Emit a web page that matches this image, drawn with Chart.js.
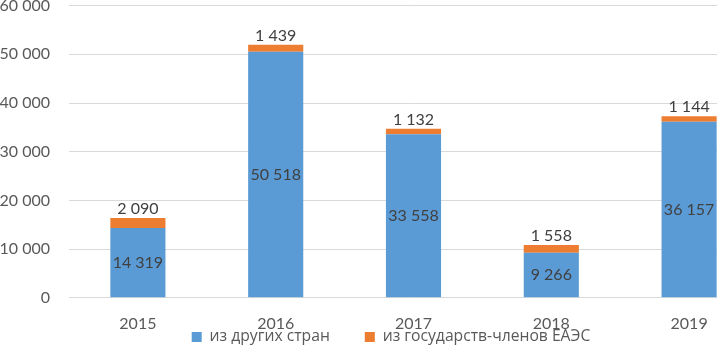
<!DOCTYPE html>
<html>
<head>
<meta charset="utf-8">
<script src="https://cdn.jsdelivr.net/npm/chart.js@4/dist/chart.umd.min.js"></script>
<style>
  html, body { margin: 0; padding: 0; background: #fff; overflow: hidden; width: 717px; height: 346px; }
  #wrap { position: absolute; left: 0; top: -4px; width: 758px; height: 400px; }
</style>
</head>
<body>
<div id="wrap"><canvas id="c" width="758" height="400"></canvas></div>
<script>
const categories = ['2015', '2016', '2017', '2018', '2019'];
const otherCountries = [14319, 50518, 33558, 9266, 36157];
const eaeuCountries = [2090, 1439, 1132, 1558, 1144];
const seriesNames = ['из других стран', 'из государств-членов ЕАЭС'];
const yTicks = [0, 10000, 20000, 30000, 40000, 50000, 60000];

const fmt = v => String(v).replace(/\B(?=(\d{3})+(?!\d))/g, ' ');

const valueLabels = {
  id: 'valueLabels',
  afterDatasetsDraw(chart) {
    const ctx = chart.ctx;
    ctx.save();
    ctx.font = '16px Lato, "Open Sans", sans-serif';
    ctx.fillStyle = '#404040';
    ctx.textAlign = 'center';
    ctx.textBaseline = 'middle';
    chart.data.datasets.forEach((ds, di) => {
      const meta = chart.getDatasetMeta(di);
      meta.data.forEach((bar, i) => {
        const txt = fmt(ds.data[i]);
        if (di === 0) {
          ctx.fillText(txt, bar.x, (bar.y + bar.base) / 2);
        } else {
          ctx.fillText(txt, bar.x, bar.y - 9);
        }
      });
    });
    ctx.restore();
  }
};

const legendShift = {
  id: 'legendShift',
  afterLayout(chart) {
    const lg = chart.legend;
    const dx = 12, dy = -41.15;
    lg.left += dx; lg.right += dx;
    lg.top += dy; lg.bottom += dy;
  }
};

new Chart(document.getElementById('c'), {
  type: 'bar',
  data: {
    labels: categories,
    datasets: [
      { label: seriesNames[0], data: otherCountries, backgroundColor: '#5B9BD5', borderWidth: 0 },
      { label: seriesNames[1], data: eaeuCountries, backgroundColor: '#ED7D31', borderWidth: 0 }
    ]
  },
  options: {
    responsive: false,
    animation: false,
    events: [],
    layout: { padding: 0 },
    datasets: { bar: { categoryPercentage: 1, barPercentage: 0.4 } },
    plugins: {
      tooltip: { enabled: false },
      legend: {
        position: 'bottom',
        labels: {
          boxWidth: 10,
          boxHeight: 10,
          padding: 35,
          color: '#595959',
          font: { family: '"Open Sans", sans-serif', size: 15.7 }
        }
      }
    },
    scales: {
      x: {
        stacked: true,
        grid: { display: false, drawTicks: false },
        border: { display: false },
        ticks: { color: '#595959', font: { family: 'Lato, "Open Sans", sans-serif', size: 16 }, padding: 16, maxRotation: 0, autoSkip: false },
        afterFit: s => { s.height = 37.5; }
      },
      y: {
        stacked: true,
        min: 0,
        max: 60000,
        afterBuildTicks: s => { s.ticks = yTicks.map(v => ({ value: v })); },
        grid: { color: '#d9d9d9', lineWidth: 1, drawTicks: true, tickLength: 19, tickColor: 'rgba(0,0,0,0)' },
        border: { display: false },
        ticks: {
          color: '#595959',
          font: { family: 'Lato, "Open Sans", sans-serif', size: 16 },
          padding: 0,
          callback: v => fmt(v)
        },
        afterFit: s => { s.width = 69; }
      }
    }
  },
  plugins: [valueLabels, legendShift]
});
</script>
</body>
</html>
